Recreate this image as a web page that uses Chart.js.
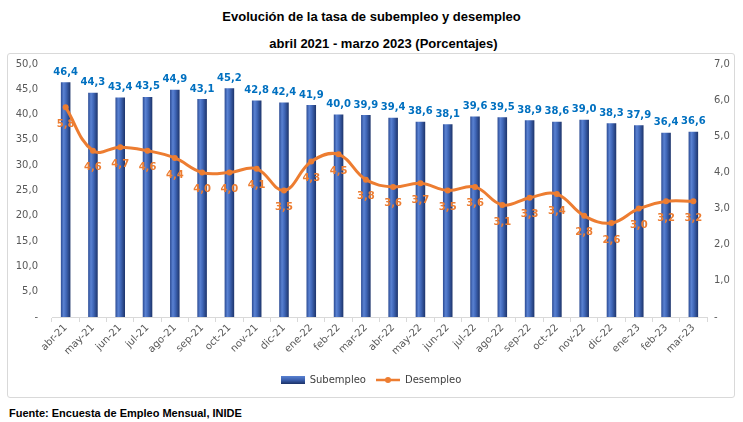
<!DOCTYPE html>
<html>
<head>
<meta charset="utf-8">
<script src="https://cdn.jsdelivr.net/npm/chart.js@4.4.0/dist/chart.umd.min.js"></script>
<style>
body { margin: 0; background: #fff; width: 743px; height: 422px; position: relative; overflow: hidden; font-family: "Liberation Sans", Arial, sans-serif; }
.titulo { position: absolute; left: 0; width: 743px; text-align: center; font-weight: bold; font-size: 13px; line-height: 16px; color: #000; }
#caja { position: absolute; left: 7px; top: 53px; width: 726px; height: 343px; border: 1px solid #d9d9d9; border-radius: 3px; }
#fuente { position: absolute; left: 9px; top: 406px; font-weight: bold; font-size: 11px; line-height: 14px; color: #000; }
</style>
</head>
<body>
<div class="titulo" style="top:9px">Evolución de la tasa de subempleo y desempleo</div>
<div class="titulo" style="top:36px; padding-left:24px; width:719px">abril 2021 - marzo 2023 (Porcentajes)</div>
<div id="caja"><canvas id="grafico"></canvas></div>
<div id="fuente">Fuente: Encuesta de Empleo Mensual, INIDE</div>
<script>
// datos
const meses = ['abr-21', 'may-21', 'jun-21', 'jul-21', 'ago-21', 'sep-21', 'oct-21', 'nov-21', 'dic-21', 'ene-22', 'feb-22', 'mar-22',
    'abr-22', 'may-22', 'jun-22', 'jul-22', 'ago-22', 'sep-22', 'oct-22', 'nov-22', 'dic-22', 'ene-23', 'feb-23', 'mar-23'];
const subempleo = [46.4, 44.3, 43.4, 43.5, 44.9, 43.1, 45.2, 42.8, 42.4, 41.9, 40.0, 39.9,
    39.4, 38.6, 38.1, 39.6, 39.5, 38.9, 38.6, 39.0, 38.3, 37.9, 36.4, 36.6];
const desempleo = [5.8, 4.6, 4.7, 4.6, 4.4, 4.0, 4.0, 4.1, 3.5, 4.3, 4.5, 3.8,
    3.6, 3.7, 3.5, 3.6, 3.1, 3.3, 3.4, 2.8, 2.6, 3.0, 3.2, 3.2];

const fuenteEjes = '"DejaVu Sans", sans-serif';

function fmt(v) {
    return v.toFixed(1).replace('.', ',');
}

function rellenoBarra(ctx) {
    const chart = ctx.chart;
    const xs = chart.scales.x;
    if (!xs || ctx.dataIndex === undefined) return '#3b5fae';
    const cx = xs.getPixelForValue(ctx.dataIndex);
    if (!isFinite(cx)) return '#3b5fae';
    const g = chart.ctx.createLinearGradient(cx - 5, 0, cx + 5, 0);
    g.addColorStop(0, '#27468e');
    g.addColorStop(0.3, '#5a82d2');
    g.addColorStop(0.55, '#4067b8');
    g.addColorStop(1, '#1b3166');
    return g;
}

// iconos de la leyenda
function iconoBarra() {
    const c = document.createElement('canvas');
    c.width = 24; c.height = 8;
    const g = c.getContext('2d');
    const gr = g.createLinearGradient(0, 0, 0, 8);
    gr.addColorStop(0, '#5a82d2');
    gr.addColorStop(0.5, '#3b5fae');
    gr.addColorStop(1, '#1b3166');
    g.fillStyle = gr;
    g.fillRect(0, 0, 24, 8);
    return c;
}

function iconoLinea() {
    const c = document.createElement('canvas');
    c.width = 24; c.height = 8;
    const g = c.getContext('2d');
    g.strokeStyle = '#ED7D31';
    g.lineWidth = 2.5;
    g.beginPath(); g.moveTo(0, 4); g.lineTo(24, 4); g.stroke();
    g.fillStyle = '#ED7D31';
    g.beginPath(); g.arc(12, 4, 3, 0, Math.PI * 2); g.fill();
    return c;
}

const iconos = [iconoBarra(), iconoLinea()];

const etiquetas = {
    id: 'etiquetas',
    afterDatasetsDraw(chart) {
        const c = chart.ctx;
        c.save();
        c.textAlign = 'center';
        c.font = 'bold 10px ' + fuenteEjes;
        c.fillStyle = '#0070C0';
        c.textBaseline = 'bottom';
        chart.getDatasetMeta(0).data.forEach((el, i) => {
            c.fillText(fmt(subempleo[i]), el.x, el.y - 5);
        });
        c.fillStyle = '#ED7D31';
        c.textBaseline = 'middle';
        chart.getDatasetMeta(1).data.forEach((el, i) => {
            c.fillText(fmt(desempleo[i]), el.x, el.y + 17);
        });
        c.restore();
    }
};

new Chart(document.getElementById('grafico'), {
    data: {
        labels: meses,
        datasets: [{
            type: 'bar',
            label: 'Subempleo',
            data: subempleo,
            yAxisID: 'y',
            backgroundColor: rellenoBarra,
            barPercentage: 0.7,
            categoryPercentage: 0.5,
            order: 1
        }, {
            type: 'line',
            label: 'Desempleo',
            data: desempleo,
            yAxisID: 'y1',
            borderColor: '#ED7D31',
            backgroundColor: '#ED7D31',
            borderWidth: 3,
            tension: 0.4,
            pointRadius: 3,
            pointBackgroundColor: '#ED7D31',
            pointBorderWidth: 0,
            order: 0
        }]
    },
    options: {
        responsive: true,
        maintainAspectRatio: false,
        animation: false,
        layout: { padding: { top: 10, left: 0, right: 0, bottom: 2 } },
        plugins: {
            tooltip: { enabled: false },
            legend: {
                position: 'bottom',
                labels: {
                    usePointStyle: true,
                    pointStyleWidth: 24,
                    color: '#404040',
                    font: { family: fuenteEjes, size: 10 },
                    padding: 10,
                    sort: (a, b) => a.datasetIndex - b.datasetIndex,
                    generateLabels(chart) {
                        const items = Chart.defaults.plugins.legend.labels.generateLabels(chart);
                        items.forEach(it => { it.pointStyle = iconos[it.datasetIndex]; });
                        return items;
                    }
                }
            }
        },
        scales: {
            x: {
                offset: true,
                grid: { display: true, drawOnChartArea: false, offset: true, tickLength: 5, color: '#d9d9d9' },
                border: { display: true, color: '#d9d9d9' },
                ticks: {
                    color: '#595959',
                    font: { family: fuenteEjes, size: 10 },
                    minRotation: 45,
                    maxRotation: 45,
                    autoSkip: false,
                    padding: 0
                },
                afterFit(scale) { scale.height = 48; }
            },
            y: {
                position: 'left',
                min: 0,
                max: 50,
                grid: { display: false, drawTicks: false },
                border: { display: false },
                ticks: {
                    stepSize: 5,
                    padding: 14,
                    color: '#595959',
                    font: { family: fuenteEjes, size: 10 },
                    callback: v => v === 0 ? '-' : fmt(v)
                },
                afterFit(scale) { scale.width = 44; scale.paddingTop = 0; scale.paddingBottom = 0; }
            },
            y1: {
                position: 'right',
                min: 0,
                max: 7,
                grid: { display: false, drawTicks: false },
                border: { display: false },
                ticks: {
                    stepSize: 1,
                    padding: 7,
                    color: '#595959',
                    font: { family: fuenteEjes, size: 10 },
                    callback: v => v === 0 ? '-' : fmt(v)
                },
                afterFit(scale) { scale.width = 27; scale.paddingTop = 0; scale.paddingBottom = 0; }
            }
        }
    },
    plugins: [etiquetas]
});
</script>
</body>
</html>
